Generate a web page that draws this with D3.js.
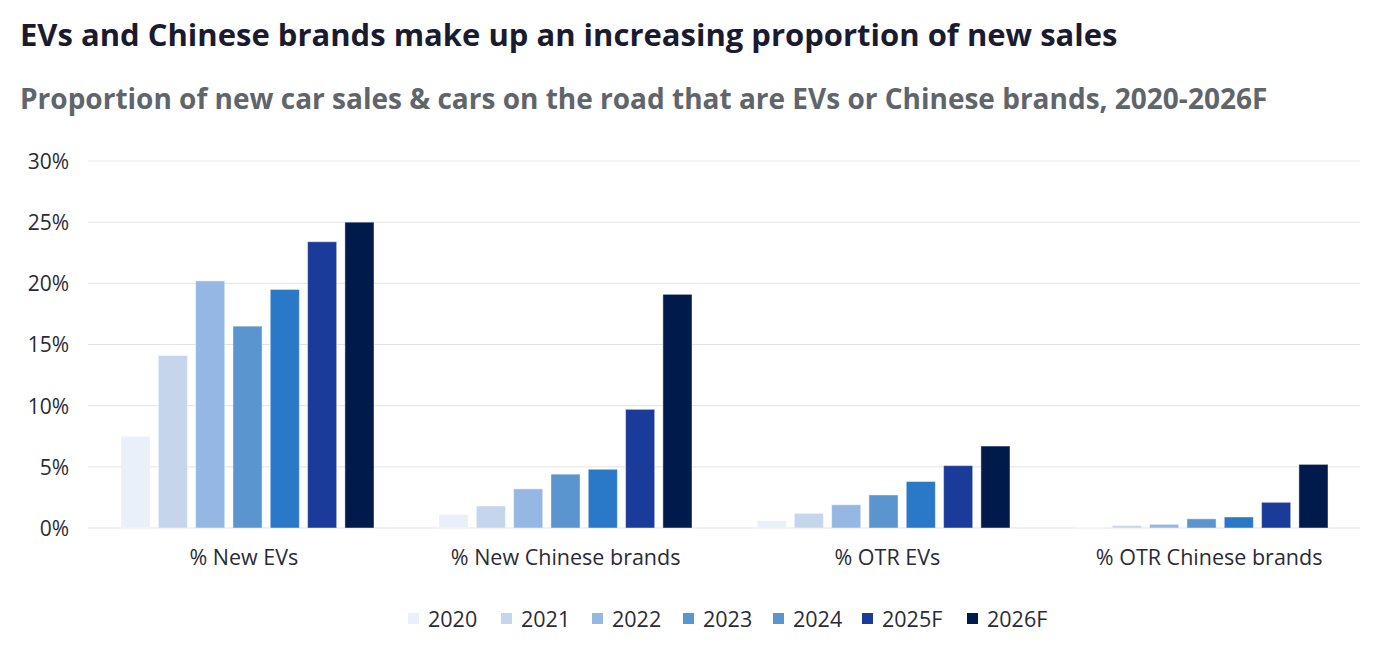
<!DOCTYPE html>
<html>
<head>
<meta charset="utf-8">
<script src="https://cdn.jsdelivr.net/npm/d3@7"></script>
<style>
  body { margin: 0; background: #fff; font-family: "Open Sans", sans-serif; }
</style>
</head>
<body>
<svg id="chart" width="1389" height="653"></svg>
<script>
// chart data
var categories = ["% New EVs", "% New Chinese brands", "% OTR EVs", "% OTR Chinese brands"];
var years = ["2020", "2021", "2022", "2023", "2024", "2025F", "2026F"];
var newEVs = [7.5, 14.1, 20.2, 16.5, 19.5, 23.4, 25.0];
var newChinese = [1.1, 1.8, 3.2, 4.4, 4.8, 9.7, 19.1];
var otrEVs = [0.6, 1.2, 1.9, 2.7, 3.8, 5.1, 6.7];
var otrChinese = [0.05, 0.2, 0.3, 0.75, 0.9, 2.1, 5.2];
var yTicks = [0, 5, 10, 15, 20, 25, 30];

var seriesByCategory = [newEVs, newChinese, otrEVs, otrChinese];

var colors = ["#e9f0f9", "#c4d5ec", "#94b8e3", "#5a95cf", "#2a78c8", "#1b3b9b", "#001a4c"];
// the legend in the original repeats the 2023 swatch for 2024
var legendColors = ["#e9f0f9", "#c4d5ec", "#94b8e3", "#5a95cf", "#5a95cf", "#1b3b9b", "#001a4c"];

var svg = d3.select("#chart");

svg.append("text")
    .attr("x", 20).attr("y", 46)
    .style("font-size", "31px").style("font-weight", "700")
    .style("fill", "#1b1b2f")
    .text("EVs and Chinese brands make up an increasing proportion of new sales");

svg.append("text")
    .attr("x", 20).attr("y", 109)
    .style("font-size", "28px").style("font-weight", "700")
    .style("fill", "#60646b")
    .text("Proportion of new car sales & cars on the road that are EVs or Chinese brands, 2020-2026F");

var plotLeft = 88, plotRight = 1360, plotTop = 161, plotBottom = 528;

var y = d3.scaleLinear().domain([0, 30]).range([plotBottom, plotTop]);
var x0 = d3.scaleBand().domain(categories).range([plotLeft, plotRight]).padding(0);
var x1 = d3.scaleBand().domain(years).range([33, 286]).paddingInner(0.22);
// labels sit on a slightly wider spread than the bar groups
var xLabel = x0.copy().range([83, 1370]);

// gridlines
svg.append("g")
    .selectAll("line")
    .data(yTicks)
    .enter().append("line")
    .attr("x1", plotLeft).attr("x2", plotRight)
    .attr("y1", function (d) { return y(d); })
    .attr("y2", function (d) { return y(d); })
    .style("stroke", "#e3e3e6").style("stroke-width", 1);

// y axis labels
var yAxis = d3.axisLeft(y).tickValues(yTicks).tickSize(0).tickPadding(0)
    .tickFormat(function (d) { return d + "%"; });
svg.append("g")
    .attr("transform", "translate(69,0)")
    .call(yAxis)
    .call(function (g) { g.select(".domain").remove(); })
    .selectAll("text")
    .style("font-family", "'Open Sans', sans-serif")
    .style("font-size", "21px")
    .style("fill", "#2b2b36")
    .attr("dy", "0.35em");

// bars
var groups = svg.append("g")
    .selectAll("g")
    .data(categories)
    .enter().append("g")
    .attr("transform", function (d) { return "translate(" + x0(d) + ",0)"; });

groups.selectAll("rect")
    .data(function (d, i) {
        return seriesByCategory[i].map(function (v, j) { return { year: years[j], value: v, idx: j }; });
    })
    .enter().append("rect")
    .attr("x", function (d) { return x1(d.year); })
    .attr("width", x1.bandwidth())
    .attr("y", function (d) { return y(d.value); })
    .attr("height", function (d) { return plotBottom - y(d.value); })
    .style("fill", function (d) { return colors[d.idx]; })
    .style("stroke", "rgba(255,255,255,0.45)")
    .style("stroke-width", 1);

// x axis labels
var xAxis = d3.axisBottom(xLabel).tickSize(0).tickPadding(0);
svg.append("g")
    .attr("transform", "translate(0," + 550 + ")")
    .call(xAxis)
    .call(function (g) { g.select(".domain").remove(); })
    .selectAll("text")
    .style("font-family", "'Open Sans', sans-serif")
    .style("font-size", "21.5px")
    .style("fill", "#2b2b36");

// legend
var legendX = [408, 501, 592, 683, 773, 862, 967];
var legend = svg.append("g")
    .selectAll("g")
    .data(years)
    .enter().append("g")
    .attr("transform", function (d, i) { return "translate(" + legendX[i] + ",613)"; });

legend.append("rect")
    .attr("width", 11).attr("height", 11)
    .style("fill", function (d, i) { return legendColors[i]; });

legend.append("text")
    .attr("x", 20).attr("y", 6)
    .attr("dy", "0.35em")
    .style("font-size", "21.5px")
    .style("fill", "#2b2b36")
    .text(function (d) { return d; });
</script>
</body>
</html>
